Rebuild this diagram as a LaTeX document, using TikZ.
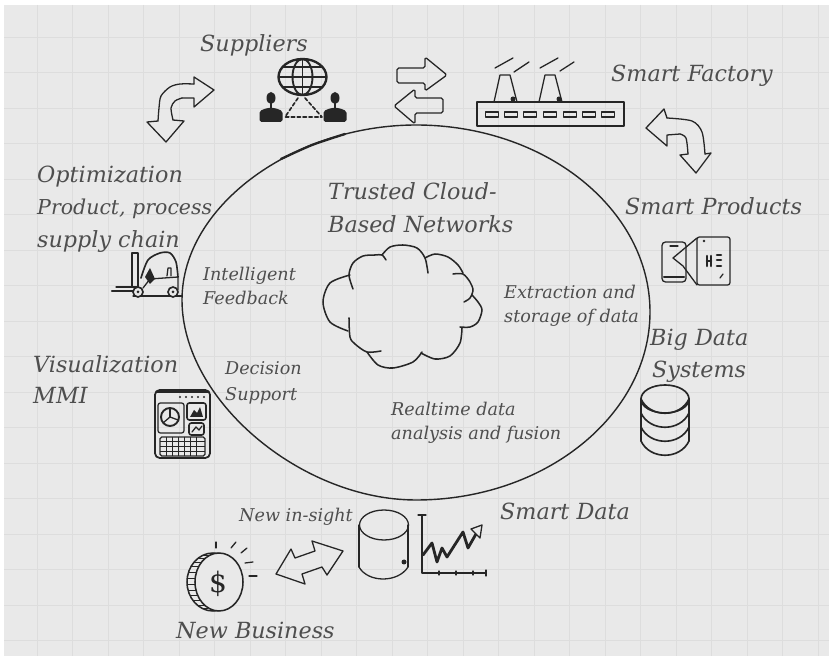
\documentclass[tikz,border=0pt]{standalone}
\usepackage{fontspec}
\setmainfont{DejaVu Serif}
\definecolor{paper}{HTML}{E9E9E9}
\definecolor{gridline}{HTML}{DDDDDD}
\definecolor{pen}{HTML}{262626}
\definecolor{script}{HTML}{4E4E4E}
\tikzset{
	sketch/.style={draw=pen,line width=1.1pt,line join=round,line cap=round},
	heavy/.style={sketch,line width=2pt},
	bigtext/.style={anchor=base west,inner sep=0pt,text=script,font=\itshape\fontsize{19}{21}\selectfont},
	smalltext/.style={anchor=base west,inner sep=0pt,text=script,font=\itshape\fontsize{15}{17}\selectfont},
}
\begin{document}
\begin{tikzpicture}[x=.03cm,y=-.03cm]
		\useasboundingbox (0,0) rectangle (829,656);
		%paper
		\fill[paper] (4,5) rectangle (829,656);
		\foreach \gx in {37,72.5,...,829} \draw[gridline,line width=.5pt] (\gx,5) -- (\gx,656);
		\foreach \gy in {37,72.5,...,656} \draw[gridline,line width=.5pt] (4,\gy) -- (829,\gy);
		%big ring
		\draw[sketch,line width=1.2pt] (416,125) .. controls (545,125) and (650,209) .. (650,312) .. controls (650,415) and (545,500) .. (416,500) .. controls (301,500) and (182,400) .. (182,300) .. controls (182,205) and (295,125) .. (416,125);
		\draw[heavy] plot[smooth] coordinates {(281,159) (312,145) (345,134)};
		%cloud
			\draw[sketch,line width=1.3pt] plot[smooth] coordinates {(353,289) (349,275) (353,263) (363,256) (375,255) (382,255) (386,260)};
			\draw[sketch,line width=1.3pt] plot[smooth] coordinates {(350,275) (330,283) (323,302) (330,322) (348,331)};
			\draw[sketch,line width=1.3pt] plot[smooth] coordinates {(382,255) (390,247) (403,245) (417,248) (425,258) (428,273)};
			\draw[sketch,line width=1.3pt] plot[smooth] coordinates {(425,258) (435,254) (448,257) (458,265) (463,273)};
			\draw[sketch,line width=1.3pt] plot[smooth] coordinates {(453,274) (463,274) (470,282) (473,290) (470,298) (464,302)};
			\draw[sketch,line width=1.3pt] plot[smooth] coordinates {(472,295) (478,302) (482,310) (478,322) (470,327) (460,327)};
			\draw[sketch,line width=1.3pt] plot[smooth] coordinates {(462,328) (460,343) (450,356) (435,359) (421,353)};
			\draw[sketch,line width=1.3pt] plot[smooth] coordinates {(422,352) (413,362) (393,368) (378,365) (367,352)};
			\draw[sketch,line width=1.3pt] plot[smooth] coordinates {(381,351) (367,352) (355,344) (350,337) (349,318)};
		%suppliers
			\node[bigtext] (suppliers) at (200,52) {Suppliers};
			% globe
			\draw[heavy] (302.5,77) ellipse [x radius=24,y radius=18];
			\draw[sketch,line width=1.6pt] (302.5,77) ellipse [x radius=10,y radius=18];
			\draw[sketch,line width=1.6pt] (302.5,59) -- (302.5,95);
			\draw[sketch,line width=1.6pt] (279,77) -- (326,77);
			\draw[sketch,line width=1.6pt] (283,67) -- (322,67);
			\draw[sketch,line width=1.6pt] (283,87) -- (322,87);
			% people
			\foreach \px in {271,335} {
				\fill[pen] (\px,98) ellipse [x radius=4.5,y radius=6];
				\draw[pen,line width=1pt] (\px,102) -- (\px,108);
				\fill[pen,rounded corners=1.5pt] (\px-11.5,122) -- (\px-11.5,111) -- (\px-4,108) -- (\px+4,108) -- (\px+11.5,111) -- (\px+11.5,122) -- cycle;
			}
			\coordinate (peak1) at (298,98);
			\coordinate (peak2) at (305,98);
			\coordinate (foot1) at (285,117);
			\coordinate (foot2) at (322,117);
			\draw[sketch,densely dashed,line width=1.4pt] (peak1) -- (foot1) -- (foot2) -- (peak2);
		% exchange arrows
			\draw[sketch] plot[smooth] coordinates {(194,84) (180,84) (170,87) (161,96) (159,108) (158,121)};
			\draw[sketch] (194,84) -- (194,77) -- (214,90) -- (194,107) -- (194,98) -- (182,98);
			\draw[sketch] plot[smooth] coordinates {(182,98) (175,101) (171,108) (173,120)};
			\draw[sketch] (173,120) -- (184,121) -- (166,142) -- (147,122) -- (158,121);
			\draw[sketch,rounded corners=1.5pt] (425,68) -- (425,57) -- (447,75) -- (425,91) -- (425,83) -- (397,83) -- (397,68) -- cycle;
			\draw[sketch,rounded corners=1.5pt] (415,98) -- (415,89) -- (394,106) -- (415,124) -- (415,113) -- (443,113) -- (443,98) -- cycle;
		%factory
			\draw[sketch] (477,102) rectangle (624,126);
			\foreach \wx in {492,511,530,550,570,589,608} \draw[sketch] (\wx-6.5,112) rectangle (\wx+6.5,117);
			\draw[sketch] (494,102) -- (500,75) -- (510,75) -- (517,102);
			\draw[sketch] (539,102) -- (545,75) -- (555,75) -- (562,102);
			\draw[sketch] (495,68) -- (513,58);
			\draw[sketch] (514,72) -- (529,62);
			\draw[sketch] (540,68) -- (558,58);
			\draw[sketch] (560,71) -- (574,62);
			\fill[pen] (513,99) circle (2.5);
			\fill[pen] (559,99) circle (2.5);
			\node[bigtext] (factory) at (611,82) {Smart Factory};
			% curved arrow
			\draw[sketch] (667,118) -- (664,109) -- (646,128) -- (667,146) -- (667,135) -- (680,134);
			\draw[sketch] plot[smooth] coordinates {(680,134) (686,138) (688,154)};
			\draw[sketch] (688,154) -- (680,155) -- (696,173) -- (711,153) -- (705,154);
			\draw[sketch] plot[smooth] coordinates {(705,154) (702,132) (692,121) (667,118)};
		%products
			\node[bigtext] (products) at (625,215) {Smart Products};
			\draw[sketch,rounded corners=3pt] (662,242) rectangle (686,282);
			\draw[sketch] (670,246) -- (678,246);
			\draw[sketch,line width=1.8pt] (664,277) -- (684,277);
			\draw[sketch,rounded corners=2pt] (697,237) rectangle (730,285);
			\draw[sketch] (697,238) -- (673,258) -- (683,266) -- (697,285);
			\draw[heavy,line width=2.2pt] (707,256) -- (707,266);
			\draw[heavy,line width=2.2pt] (711,256) -- (711,266);
			\draw[heavy,line width=2.2pt] (707,261) -- (711,261);
			\draw[heavy,line width=2.2pt] (717,255) -- (721,255);
			\draw[heavy,line width=2.2pt] (717,260) -- (721,260);
			\draw[heavy,line width=2.2pt] (717,266) -- (721,266);
			\fill[pen] (704,241) circle (1.3);
			\draw[sketch] (720,278) -- (723,274);
		%middle texts
			\node[bigtext] (trusted) at (328,200) {Trusted Cloud-};
			\node[bigtext] (based) at (328,233) {Based Networks};
			\node[smalltext] (intelligent) at (203,281) {Intelligent};
			\node[smalltext] (feedback) at (203,305) {Feedback};
			\node[smalltext] (extraction) at (504,299) {Extraction and};
			\node[smalltext] (storage) at (504,323) {storage of data};
			\node[smalltext] (decision) at (225,375) {Decision};
			\node[smalltext] (support) at (225,401) {Support};
			\node[smalltext] (realtime) at (391,416) {Realtime data};
			\node[smalltext] (fusion) at (391,440) {analysis and fusion};
		%big data
			\node[bigtext] (bigdata) at (650,346) {Big Data};
			\node[bigtext] (systems) at (652,378) {Systems};
			\draw[sketch,line width=1.4pt] (665,399) ellipse [x radius=24,y radius=14];
			\draw[sketch,line width=1.4pt] (641,399) -- (641,441);
			\draw[sketch,line width=1.4pt] (689,399) -- (689,441);
			\foreach \sy in {413,427,441} \draw[sketch,line width=1.4pt] (641,\sy-14) .. controls (650,\sy+5) and (680,\sy+5) .. (689,\sy-14);
			\draw[sketch,line width=1.4pt] (641,441) .. controls (650,460) and (680,460) .. (689,441);
		%optimization
			\node[bigtext] (optimization) at (37,183) {Optimization};
			\node[bigtext,font=\itshape\fontsize{17.5}{19}\selectfont] (product) at (37,215) {Product, process};
			\node[bigtext] (chain) at (37,248) {supply chain};
			% forklift
			\draw[sketch,line width=1.4pt] (132,253) rectangle (138,287);
			\draw[heavy] (112,291) -- (137,291);
			\draw[sketch] (116,287) -- (137,287);
			\draw[sketch] (133,296) -- (182,296);
			\draw[sketch,line width=1.4pt] plot[smooth] coordinates {(141,278) (148,260) (160,253) (170,253) (176,262) (178,277)};
			\draw[sketch] (143,288) -- (150,279) -- (178,277) -- (178,290);
			\draw[sketch] (167,276) -- (168,268) -- (171,268) -- (171,276);
			\fill[pen] (145,277) -- (150,268) -- (155,279) -- (150,284) -- cycle;
			\foreach \wx in {138,173} {
				\draw[sketch,fill=paper,line width=1.4pt] (\wx,292) circle (5);
				\fill[pen] (\wx,292) circle (1.5);
			}
		%visualization
			\node[bigtext] (visualization) at (33,373) {Visualization};
			\node[bigtext] (mmi) at (33,404) {MMI};
			% screen
			\draw[sketch,line width=1.5pt,rounded corners=4pt] (155,390) rectangle (210,458);
			\draw[heavy,line width=2.5pt] (157,392) -- (208,392);
			\foreach \dx in {180,186,192,198,204} \fill[pen] (\dx,397) circle (1.2);
			\draw[sketch,rounded corners=2pt] (158,403) rectangle (184,433);
			\draw[heavy,line width=1.6pt] (170,417) circle (9);
			\draw[sketch] (170,417) -- (170,408);
			\draw[sketch] (170,417) -- (178,420);
			\draw[sketch] (170,417) -- (163,423);
			\draw[sketch,line width=1.4pt,rounded corners=2pt] (187,403) rectangle (206,420);
			\fill[pen] (190,417) -- (194,410) -- (197,413) -- (200,407) -- (203,417) -- cycle;
			\draw[sketch,line width=1.4pt,rounded corners=2pt] (189,423) rectangle (204,435);
			\draw[sketch] (192,432) -- (196,427) -- (199,430) -- (202,426);
			\draw[sketch,rounded corners=1.5pt] (160,437) rectangle (205,456);
			\foreach \kx in {166,172,...,200} \draw[pen,line width=.7pt] (\kx,437) -- (\kx,456);
			\foreach \ky in {441,446,451} \draw[pen,line width=.7pt] (160,\ky) -- (205,\ky);
		%smart data
			\node[bigtext] (smartdata) at (500,520) {Smart Data};
			\node[smalltext] (insight) at (239,522) {New in-sight};
			% drum
			\draw[sketch] (384,525) ellipse [x radius=24.5,y radius=15];
			\draw[sketch] (359,525) -- (359,567);
			\draw[sketch] (408,525) -- (408,567);
			\draw[sketch] (359,567) .. controls (368,583) and (398,583) .. (408,567);
			\fill[pen] (404,562) circle (2.5);
			% chart
			\draw[sketch] (418,515) -- (426,515);
			\draw[sketch] (422,515) -- (422,573) -- (486,573);
			\draw[sketch] (486,570) -- (486,576);
			\foreach \tx in {439,456,473} \draw[sketch] (\tx,571) -- (\tx,575);
			\draw[heavy,line width=2.4pt] (423,555) -- (432,543) -- (437,562) -- (442,548) -- (447,557) -- (463,532) -- (468,548) -- (476,534);
			\draw[sketch,fill=paper] (471,529) -- (482,525) -- (480,538) -- cycle;
		%new business
			\node[bigtext] (business) at (176,639) {New Business};
			% coin
			\draw[sketch,line width=1.3pt] (213,582) ellipse [x radius=26,y radius=29];
			\draw[sketch,fill=paper,line width=1.3pt] (219,582) ellipse [x radius=24,y radius=29];
			\foreach \ca in {100,112,...,260} \draw[pen,line width=.6pt] ({213+26*cos(\ca)},{582-29*sin(\ca)}) -- ({219+24*cos(\ca)},{582-29*sin(\ca)});
			\node[inner sep=0pt,text=pen,font=\fontsize{24}{26}\selectfont] (dollar) at (218,584) {\$};
			\draw[sketch] (216,542) -- (216,548);
			\draw[sketch] (236,542) -- (231,548);
			\draw[sketch] (247,548) -- (241,553);
			\draw[sketch] (253,562) -- (245,563);
			\draw[sketch] (257,576) -- (249,576);
			% arrow
			\draw[sketch] (276,574) -- (291,549) -- (295,558) -- (315,551) -- (312,541) -- (343,551) -- (327,575) -- (322,567) -- (302,574) -- (305,584) -- cycle;
\end{tikzpicture}
\end{document}
